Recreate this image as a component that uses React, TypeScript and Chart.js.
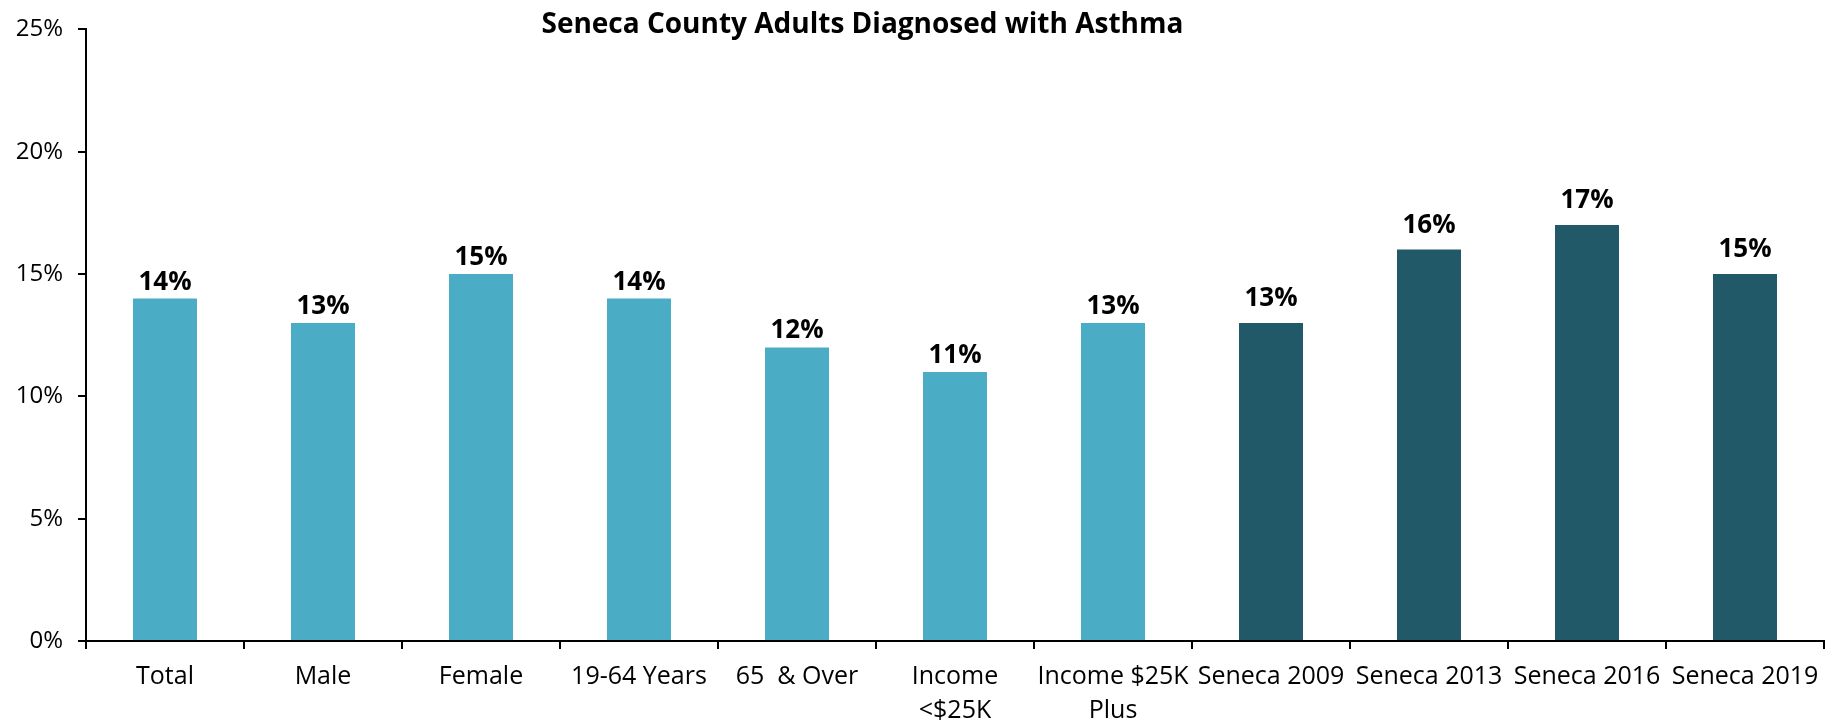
import React, { useEffect, useRef } from "react";
import { Chart, registerables } from "chart.js";

Chart.register(...registerables);

const categories: (string | string[])[] = [
  "Total",
  "Male",
  "Female",
  "19-64 Years",
  "65  & Over",
  ["Income", "<$25K"],
  ["Income $25K", "Plus"],
  "Seneca 2009",
  "Seneca 2013",
  "Seneca 2016",
  "Seneca 2019",
];
const values = [14, 13, 15, 14, 12, 11, 13, 13, 16, 17, 15];
const isTrend = [false, false, false, false, false, false, false, true, true, true, true];
const lightColor = "#4BACC6";
const darkColor = "#215968";
const yTicks = [0, 5, 10, 15, 20, 25];
const titleText = "Seneca County Adults Diagnosed with Asthma";

const FONT = "'Open Sans', 'Noto Sans', sans-serif";

const labelPlugin = {
  id: "valueLabels",
  afterDatasetsDraw(chart: any) {
    const ctx = chart.ctx;
    const meta = chart.getDatasetMeta(0);
    ctx.save();
    ctx.font = `bold 26px ${FONT}`;
    ctx.fillStyle = "#000";
    ctx.textAlign = "center";
    ctx.textBaseline = "alphabetic";
    meta.data.forEach((el: any, i: number) => {
      ctx.fillText(values[i] + "%", el.x, el.y - (isTrend[i] ? 17 : 9));
    });
    ctx.restore();
  },
};

const titlePlugin = {
  id: "customTitle",
  afterDraw(chart: any) {
    const ctx = chart.ctx;
    ctx.save();
    ctx.font = `bold 28px ${FONT}`;
    ctx.fillStyle = "#000";
    ctx.textAlign = "center";
    ctx.textBaseline = "alphabetic";
    ctx.fillText(titleText, chart.width * 0.471, 33);
    ctx.restore();
  },
};

export default function App() {
  const ref = useRef<HTMLCanvasElement | null>(null);
  useEffect(() => {
    document.body.style.margin = "0";
    const chart = new Chart(ref.current as HTMLCanvasElement, {
      type: "bar",
      data: {
        labels: categories as any,
        datasets: [
          {
            data: values,
            backgroundColor: isTrend.map((t) => (t ? darkColor : lightColor)),
            categoryPercentage: 1,
            barPercentage: 0.405,
          },
        ],
      },
      options: {
        responsive: false,
        animation: false,
        layout: { padding: { top: 27, right: 7, left: 0, bottom: 0 } },
        plugins: { legend: { display: false }, tooltip: { enabled: false }, title: { display: false } },
        scales: {
          x: {
            grid: { drawOnChartArea: false, drawTicks: true, tickLength: 8, color: "#000", lineWidth: 2, offset: true },
            border: { color: "#000", width: 2 },
            ticks: {
              color: "#000",
              font: { family: FONT, size: 25, lineHeight: 1.35 },
              padding: 11,
              maxRotation: 0,
              autoSkip: false,
            },
            afterFit(scale: any) {
              scale.height = 80;
            },
          },
          y: {
            min: 0,
            max: 25,
            afterBuildTicks(scale: any) {
              scale.ticks = yTicks.map((v) => ({ value: v }));
            },
            grid: { drawOnChartArea: false, drawTicks: true, tickLength: 8, color: "#000", lineWidth: 2 },
            border: { color: "#000", width: 2 },
            ticks: {
              color: "#000",
              font: { family: FONT, size: 24 },
              padding: 15,
              callback: (v: any) => v + "%",
            },
            afterFit(scale: any) {
              scale.width = 86;
            },
          },
        },
      },
      plugins: [labelPlugin, titlePlugin],
    });
    return () => chart.destroy();
  }, []);
  return (
    <div style={{ position: "fixed", left: 0, top: 0, width: 1831, height: 721, background: "#fff" }}>
      <canvas ref={ref} width={1831} height={721} />
    </div>
  );
}
